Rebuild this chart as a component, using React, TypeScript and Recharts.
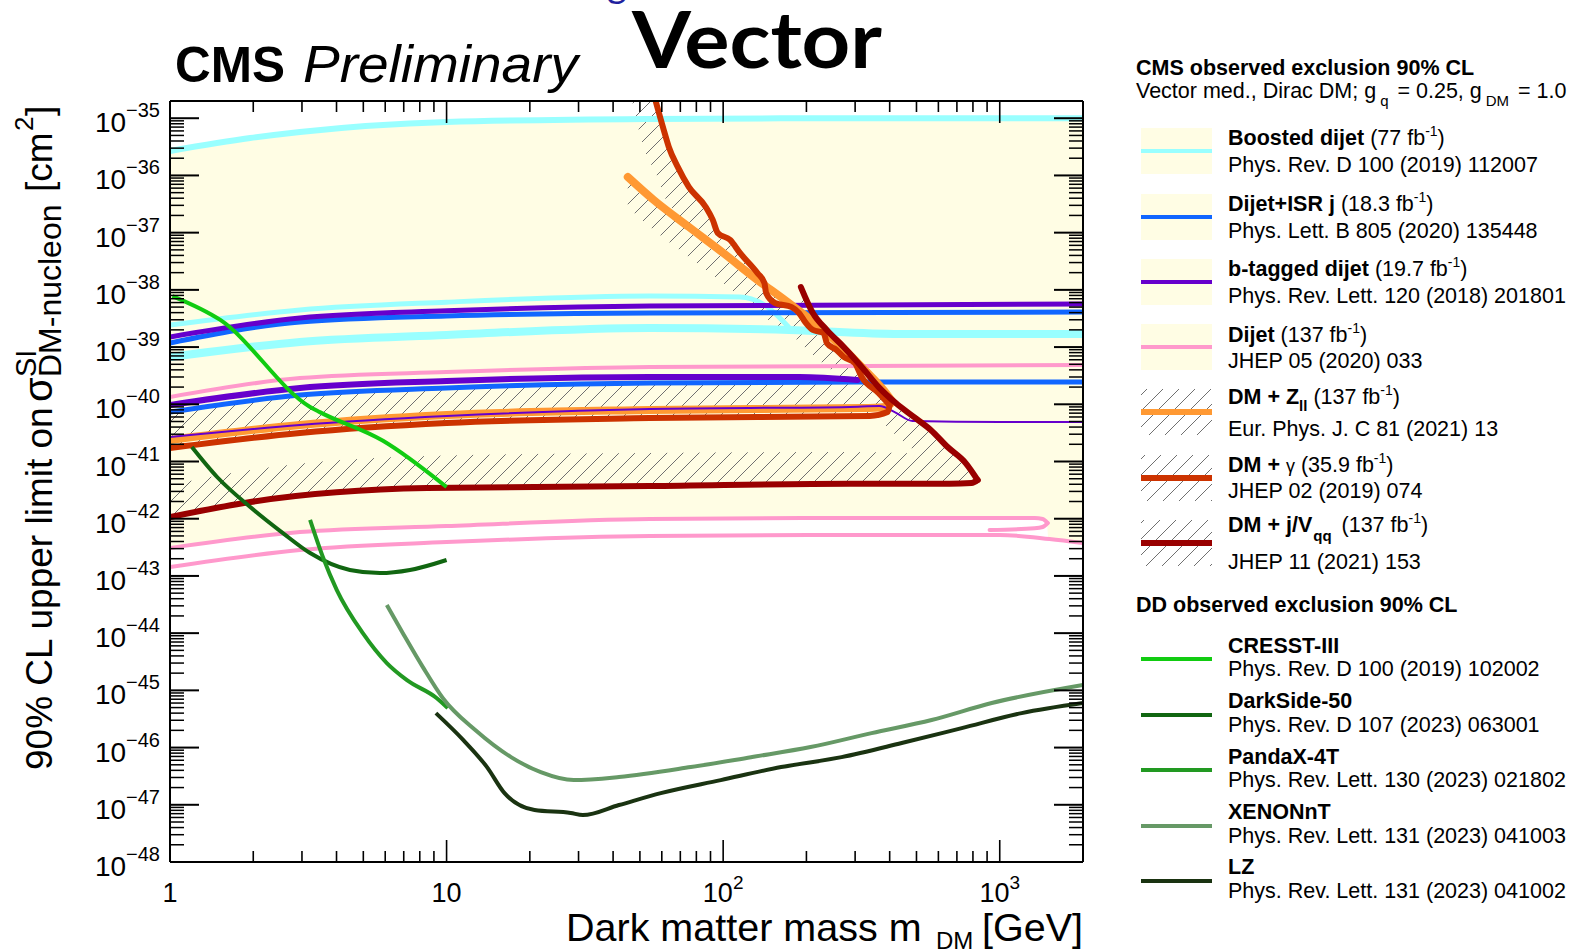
import React from 'react';
import { ComposedChart, Line, Area, XAxis, YAxis } from 'recharts';

type P = [number, number];
type R = [number, number, number];

// mass m_DM [GeV], cross section [cm^2]
const boostedTop: P[] = [[1, 2.68e-36], [1.95, 4.5e-36], [2.95, 5.75e-36], [10, 8.6e-36], [54.3, 9.7e-36], [287, 1.0e-35], [2000, 1.0e-35]];
const boostedMid: P[] = [[1, 2.43e-39], [2.95, 4.45e-39], [10, 6.1e-39], [54.3, 7.8e-39], [115, 7.5e-39], [141, 5.45e-39], [173, 2.2e-39]];
const boostedLow: P[] = [[1, 6.7e-40], [2.95, 1.23e-39], [10, 1.63e-39], [54.3, 2.16e-39], [173, 1.99e-39], [435, 1.69e-39], [2000, 1.69e-39]];
const isrTop: P[] = [[1, 1.18e-39], [2.95, 2.75e-39], [10, 3.5e-39], [54.3, 3.95e-39], [2000, 4.1e-39]];
const isrLow: P[] = [[1, 7.3e-41], [2.95, 1.45e-40], [10, 1.93e-40], [54.3, 2.36e-40], [317, 2.45e-40], [2000, 2.45e-40]];
const btagTop: P[] = [[1, 1.5e-39], [2.95, 3.23e-39], [10, 4.3e-39], [54.3, 5.2e-39], [2000, 5.66e-39]];
const btagMid: P[] = [[1, 9.7e-41], [2.95, 1.93e-40], [10, 2.55e-40], [54.3, 3.0e-40], [189, 3.0e-40], [306, 2.66e-40]];
const btagLow: P[] = [[1, 2.68e-41], [2.95, 4.35e-41], [10, 6.24e-41], [54.3, 8.3e-41], [287, 9.0e-41], [368, 9.3e-41], [417, 7.3e-41], [484, 5.1e-41], [1000, 4.9e-41], [2000, 4.9e-41]];
const dijetTop: P[] = [[1, 1.34e-40], [2.95, 2.88e-40], [10, 3.67e-40], [54.3, 4.49e-40], [2000, 4.86e-40]];
const dijetLoopTop: P[] = [[1, 3.08e-43], [2.95, 5.85e-43], [10, 7.45e-43], [54.3, 9.9e-43], [287, 1.03e-42], [1337, 1.03e-42], [1429, 9.9e-43], [1490, 8.4e-43]];
const dijetLoopBack: P[] = [[919, 6.35e-43], [1337, 6.8e-43], [1429, 7.16e-43], [1490, 8.4e-43]];
const dijetLow: P[] = [[1, 1.43e-43], [2.95, 2.84e-43], [10, 3.9e-43], [54.3, 4.98e-43], [287, 5.2e-43], [1000, 5.2e-43], [1514, 4.42e-43], [2000, 3.76e-43]];
const zllDiag: P[] = [[45.2, 9.4e-37], [56.1, 3.72e-37], [75.1, 1.26e-37], [100, 4.42e-38], [133, 1.49e-38], [167, 6.65e-39], [237, 1.76e-39], [317, 4.49e-40], [393, 1.45e-40], [410, 1.1e-40]];
const zllBase: P[] = [[1, 2.38e-41], [2.95, 4.35e-41], [10, 6.5e-41], [54.3, 7.95e-41], [317, 8.6e-41], [384, 9.0e-41], [410, 1.1e-40]];
const gammaDiag: P[] = [[57, 2.0e-35], [61, 6.2e-36], [63.6, 3.15e-36], [68.5, 1.41e-36], [75.1, 6.3e-37], [86.5, 2.81e-37], [91.7, 1.67e-37], [95.6, 9.9e-38], [106, 7.45e-38], [115, 4.42e-38], [133, 1.97e-38], [141, 1.32e-38], [143, 8.8e-39], [154, 5.9e-39], [177, 5.0e-39], [188, 3.95e-39], [199, 2.64e-39], [211, 1.99e-39], [231, 1.76e-39], [237, 1.18e-39], [257, 8.9e-40], [273, 6.7e-40], [299, 5.3e-40], [317, 3.0e-40], [365, 1.57e-40], [400, 9.7e-41]];
const gammaBase: P[] = [[1, 1.72e-41], [2.95, 3.15e-41], [10, 4.7e-41], [54.3, 5.75e-41], [339, 6.24e-41], [393, 7.3e-41], [400, 9.7e-41]];
const jvDiag: P[] = [[191, 1.12e-38], [211, 3.95e-39], [237, 1.99e-39], [273, 1.0e-39], [317, 4.49e-40], [365, 2.0e-40], [421, 1.05e-40], [489, 6.0e-41], [563, 3.56e-41], [648, 1.79e-41], [753, 9.4e-42], [832, 4.74e-42]];
const jvBase: P[] = [[1, 1.07e-42], [1.95, 1.96e-42], [8.49, 3.44e-42], [54.3, 3.72e-42], [287, 4.1e-42], [659, 4.1e-42], [791, 4.2e-42], [832, 4.74e-42]];

// direct detection
const cresst: P[] = [[1.02, 7.8e-39], [1.52, 2.98e-39], [3.21, 9.0e-41], [3.48, 7.3e-41], [5.89, 2.3e-41], [10, 3.58e-42]];
const darkside: P[] = [[1.2, 1.79e-41], [1.48, 5.36e-42], [1.95, 1.6e-42], [2.56, 5.6e-43], [3.21, 2.51e-43], [4.47, 1.27e-43], [5.74, 1.12e-43], [7.37, 1.27e-43], [10, 1.9e-43]];
const pandax: P[] = [[3.21, 9.5e-43], [3.57, 2.14e-43], [4.01, 5.66e-44], [4.98, 1.0e-44], [6.08, 3.0e-45], [7.19, 1.51e-45], [9.22, 7.3e-46], [10.1, 4.9e-46]];
const xenon: P[] = [[6.08, 3.1e-44], [6.95, 1.0e-44], [8.21, 2.55e-45], [9.7, 7.3e-46], [12.7, 2.02e-46], [17.1, 6.8e-47], [21.9, 3.72e-47], [28.8, 2.7e-47], [42, 3.05e-47], [76.4, 4.56e-47], [126, 6.8e-47], [207, 1.02e-46], [344, 1.79e-46], [567, 3.03e-46], [935, 6.0e-46], [2000, 1.24e-45]];
const lz: P[] = [[9.15, 4.0e-46], [11.5, 1.35e-46], [14.0, 4.56e-47], [16.2, 1.6e-47], [20.8, 8.1e-48], [28.1, 7.2e-48], [31.1, 6.6e-48], [42, 9.9e-48], [59.5, 1.6e-47], [98, 2.7e-47], [162, 4.56e-47], [268, 6.8e-47], [442, 1.2e-46], [729, 2.19e-46], [1200, 4.0e-46], [2000, 6.0e-46]];

// filled / hatched regions: [m, low, high]
const yellowFill: R[] = [[1, 3.08e-43, 2.68e-36], [1.95, 4.6e-43, 4.5e-36], [2.95, 5.85e-43, 5.75e-36], [10, 7.45e-43, 8.6e-36], [54.3, 9.9e-43, 9.7e-36], [287, 1.03e-42, 1.0e-35], [1337, 1.03e-42, 1.0e-35], [1480, 8.6e-43, 1.0e-35], [1500, 4.4e-43, 1.0e-35], [2000, 3.76e-43, 1.0e-35]];
const hatchBand: R[] = [[1, 1.72e-41, 7.95e-41], [2.95, 3.15e-41, 1.45e-40], [10, 4.7e-41, 1.93e-40], [54.3, 5.75e-41, 2.36e-40], [287, 6.24e-41, 2.45e-40], [368, 7.3e-41, 1.45e-40]];
const hatchZll: R[] = [[45.2, 2.81e-37, 9.4e-37], [56.1, 1.11e-37, 3.72e-37], [75.1, 3.76e-38, 1.26e-37], [100, 1.32e-38, 4.42e-38], [133, 4.45e-39, 1.49e-38], [167, 1.99e-39, 6.65e-39], [237, 5.3e-40, 1.76e-39], [317, 1.64e-40, 4.49e-40], [393, 9.7e-41, 1.45e-40]];
const hatchGamma: R[] = [[47.1, 1.78e-35, 1.93e-35], [52.1, 2.68e-36, 1.93e-35], [57.5, 1.02e-36, 1.93e-35], [61, 4.56e-37, 6.2e-36], [68.5, 2.04e-37, 1.41e-36], [75.1, 1.21e-37, 6.3e-37], [86.5, 6.1e-38, 2.81e-37], [95.6, 3.33e-38, 9.9e-38], [115, 1.22e-38, 4.42e-38], [143, 3.23e-39, 8.8e-39], [177, 1.63e-39, 5.0e-39], [211, 7.3e-40, 1.99e-39], [273, 2.66e-40, 6.7e-40], [317, 1.29e-40, 3.0e-40], [365, 7.95e-41, 1.57e-40]];
const hatchJvDiag: R[] = [[191, 6.65e-39, 1.12e-38], [211, 1.33e-39, 3.95e-39], [237, 5.94e-40, 1.99e-39], [273, 2.88e-40, 1.0e-39], [317, 1.29e-40, 4.49e-40], [365, 5.75e-41, 2.0e-40], [421, 2.9e-41, 1.05e-40], [489, 1.59e-41, 6.0e-41], [563, 9.8e-42, 3.56e-41], [648, 5.57e-42, 1.79e-41], [753, 4.2e-42, 9.4e-42], [832, 4.38e-42, 4.74e-42]];
const hatchJvBase: R[] = [[1, 1.07e-42, 3.88e-42], [1.95, 1.96e-42, 7.1e-42], [8.49, 3.44e-42, 1.25e-41], [54.3, 3.88e-42, 1.41e-41], [287, 4.04e-42, 1.46e-41], [659, 4.04e-42, 1.3e-41]];

// ticks
const xMajor = [1, 10, 100, 1000];
const xTickLabels = [['1', ''], ['10', ''], ['10', '2'], ['10', '3']];
const yMajorExp = [-48, -47, -46, -45, -44, -43, -42, -41, -40, -39, -38, -37, -36, -35];
const minorMult = [2, 3, 4, 5, 6, 7, 8, 9];
const xTicks = xMajor.flatMap((v) => [v, ...minorMult.map((k) => k * v).filter((t) => t < 2000)]);
const yTicks = yMajorExp.flatMap((e) => [Math.pow(10, e), ...(e < -35 ? minorMult.map((k) => k * Math.pow(10, e)) : [])]);

const FONT = '"Liberation Sans", Arial, Helvetica, sans-serif';
const YELLOW = '#fffde4';

const pts = (a: P[]) => a.map(([m, s]) => ({ m, s }));
const band = (a: R[]) => a.map(([m, lo, hi]) => ({ m, r: [lo, hi] }));

const isMajor = (v: number) => {
  const l = Math.log10(v);
  return Math.abs(l - Math.round(l)) < 1e-6;
};

function BottomTick({ x, y, payload }: any) {
  const v = payload.value;
  const major = isMajor(v);
  const i = xMajor.findIndex((t) => Math.abs(t - v) < 1e-9);
  const lab = i >= 0 ? xTickLabels[i] : null;
  return (
    <g>
      <line x1={x} x2={x} y1={y} y2={y - (major ? 22 : 11)} stroke="#000" strokeWidth={1.6} />
      {major && lab && (
        <text x={x} y={y + 40} textAnchor="middle" fontFamily={FONT} fontSize={27} fill="#000">
          {lab[0]}
          {lab[1] && <tspan dy={-13} fontSize={19}>{lab[1]}</tspan>}
        </text>
      )}
    </g>
  );
}

function TopTick({ x, y, payload }: any) {
  const major = isMajor(payload.value);
  return <line x1={x} x2={x} y1={y} y2={y + (major ? 22 : 11)} stroke="#000" strokeWidth={1.6} />;
}

function LeftTick({ x, y, payload }: any) {
  const v = payload.value;
  const major = isMajor(v);
  return (
    <g>
      <line x1={x} x2={x + (major ? 29 : 14)} y1={y} y2={y} stroke="#000" strokeWidth={major ? 2 : 1.5} />
      {major && (
        <text x={x - 10} y={y + 14} textAnchor="end" fontFamily={FONT} fontSize={28} fill="#000">
          10<tspan dy={-15} fontSize={20}>{'\u2212' + Math.abs(Math.round(Math.log10(v)))}</tspan>
        </text>
      )}
    </g>
  );
}

function RightTick({ x, y, payload }: any) {
  const major = isMajor(payload.value);
  return <line x1={x} x2={x - (major ? 29 : 14)} y1={y} y2={y} stroke="#000" strokeWidth={major ? 2 : 1.5} />;
}

const CYAN = '#99ffff';
const BLUE = '#1166ff';
const PURPLE = '#6600cc';
const PINK = '#ff99cc';
const ORANGE = '#ff9933';
const RED = '#cc3300';
const DARKRED = '#990000';

const lines: { data: P[]; color: string; w: number; cap?: boolean }[] = [
  { data: boostedTop, color: CYAN, w: 6 },
  { data: boostedMid, color: CYAN, w: 5 },
  { data: boostedLow, color: CYAN, w: 8 },
  { data: isrTop, color: BLUE, w: 5 },
  { data: isrLow, color: BLUE, w: 5 },
  { data: btagTop, color: PURPLE, w: 5 },
  { data: btagMid, color: PURPLE, w: 6, cap: true },
  { data: dijetTop, color: PINK, w: 4 },
  { data: dijetLoopTop, color: PINK, w: 4, cap: true },
  { data: dijetLoopBack, color: PINK, w: 4, cap: true },
  { data: dijetLow, color: PINK, w: 4 },
  { data: zllDiag, color: ORANGE, w: 8, cap: true },
  { data: zllBase, color: ORANGE, w: 8, cap: true },
  { data: btagLow, color: PURPLE, w: 2 },
  { data: gammaDiag, color: RED, w: 6, cap: true },
  { data: gammaBase, color: RED, w: 6, cap: true },
  { data: jvDiag, color: DARKRED, w: 6, cap: true },
  { data: jvBase, color: DARKRED, w: 6, cap: true },
  { data: cresst, color: '#11cc11', w: 4 },
  { data: darkside, color: '#116611', w: 4 },
  { data: pandax, color: '#229922', w: 4 },
  { data: xenon, color: '#669966', w: 4 },
  { data: lz, color: '#1a3311', w: 4 },
];

const hatches = [hatchBand, hatchZll, hatchGamma, hatchJvDiag, hatchJvBase];

const LEG = 21.5;

function Sup({ t }: { t: string }) {
  return <tspan dy={-9} fontSize={14}>{t}</tspan>;
}

export default function App() {
  const axisLine = { stroke: '#000', strokeWidth: 2 };
  const cmsBoxes = [
    { line: 151, color: CYAN, w: 4, hatch: false },
    { line: 217, color: BLUE, w: 4, hatch: false },
    { line: 282, color: PURPLE, w: 4, hatch: false },
    { line: 347, color: PINK, w: 4, hatch: false },
    { line: 412, color: ORANGE, w: 6, hatch: true },
    { line: 478, color: RED, w: 6, hatch: true },
    { line: 543, color: DARKRED, w: 6, hatch: true },
  ];
  const dd = [
    { name: 'CRESST-III', ref: 'Phys. Rev. D 100 (2019) 102002', color: '#11cc11', t1: 653, t2: 676, line: 659 },
    { name: 'DarkSide-50', ref: 'Phys. Rev. D 107 (2023) 063001', color: '#116611', t1: 708, t2: 732, line: 715 },
    { name: 'PandaX-4T', ref: 'Phys. Rev. Lett. 130 (2023) 021802', color: '#229922', t1: 764, t2: 787, line: 770 },
    { name: 'XENONnT', ref: 'Phys. Rev. Lett. 131 (2023) 041003', color: '#669966', t1: 819, t2: 843, line: 826 },
    { name: 'LZ', ref: 'Phys. Rev. Lett. 131 (2023) 041002', color: '#1a3311', t1: 874, t2: 898, line: 881 },
  ];

  return (
    <div style={{ position: 'absolute', left: 0, top: 0, width: 1571, height: 952, background: '#fff', overflow: 'hidden' }}>
      <svg width={0} height={0} style={{ position: 'absolute' }}>
        <defs>
          <pattern id="hatch" width={16} height={16} patternUnits="userSpaceOnUse">
            <path d="M0,16 L16,0 M-4,4 L4,-4 M12,20 L20,12" stroke="#707070" strokeWidth={1} />
          </pattern>
        </defs>
      </svg>
      <div style={{ position: 'absolute', left: 0, top: 0 }}>
        <ComposedChart width={1100} height={952} margin={{ top: 100, right: 10, bottom: 30, left: 20 }}>
          <XAxis xAxisId="b" dataKey="m" type="number" scale="log" domain={[1, 2000]} allowDataOverflow ticks={xTicks} interval={0}
            orientation="bottom" height={60} tickLine={false} tickSize={0} tickMargin={0} axisLine={axisLine}
            tick={(p: any) => <BottomTick {...p} />} />
          <XAxis xAxisId="t" dataKey="m" type="number" scale="log" domain={[1, 2000]} allowDataOverflow ticks={xTicks} interval={0}
            orientation="top" height={1} tickLine={false} tickSize={0} tickMargin={0} axisLine={axisLine}
            tick={(p: any) => <TopTick {...p} />} />
          <YAxis yAxisId="l" type="number" scale="log" domain={[1e-48, 2e-35]} allowDataOverflow ticks={yTicks} interval={0}
            orientation="left" width={150} tickLine={false} tickSize={0} tickMargin={0} axisLine={axisLine}
            tick={(p: any) => <LeftTick {...p} />} />
          <YAxis yAxisId="r" type="number" scale="log" domain={[1e-48, 2e-35]} allowDataOverflow ticks={yTicks} interval={0}
            orientation="right" width={7} tickLine={false} tickSize={0} tickMargin={0} axisLine={axisLine}
            tick={(p: any) => <RightTick {...p} />} />

          <Area xAxisId="b" yAxisId="l" data={band(yellowFill)} dataKey="r" type="monotone" stroke="none"
            fill={YELLOW} fillOpacity={1} dot={false} activeDot={false} isAnimationActive={false} />
          {hatches.map((h, i) => (
            <Area key={'h' + i} xAxisId="b" yAxisId="l" data={band(h)} dataKey="r" type="monotone" stroke="none"
              fill="url(#hatch)" fillOpacity={1} dot={false} activeDot={false} isAnimationActive={false} />
          ))}
          {lines.map((l, i) => (
            <Line key={'l' + i} xAxisId="b" yAxisId="l" data={pts(l.data)} dataKey="s" type="monotone" stroke={l.color}
              strokeWidth={l.w} strokeLinecap={l.cap ? 'round' : 'butt'} dot={false} activeDot={false} isAnimationActive={false} />
          ))}
        </ComposedChart>
      </div>

      <svg width={1571} height={952} style={{ position: 'absolute', left: 0, top: 0, pointerEvents: 'none' }} fontFamily={FONT}>
        <text x={607} y={-3} fontFamily="Lato, sans-serif" fontSize={38} fill="#1f1f9e">g</text>
        <text x={632} y={68} fontFamily="Lato, 'Open Sans', sans-serif" fontWeight={700} fontSize={78}
          textLength={250} lengthAdjust="spacingAndGlyphs">Vector</text>
        <text x={175} y={82} fontWeight="bold" fontSize={50} textLength={110} lengthAdjust="spacingAndGlyphs">CMS</text>
        <text x={303} y={82} fontStyle="italic" fontSize={52} textLength={275} lengthAdjust="spacingAndGlyphs">Preliminary</text>

        {/* axis titles */}
        <text x={566} y={941} fontSize={39.5}>Dark matter mass m</text>
        <text x={936} y={949} fontSize={24}>DM</text>
        <text x={1083} y={941} fontSize={39.5} textAnchor="end">[GeV]</text>

        <text transform="translate(52,770) rotate(-90)" fontSize={37}>90% CL upper limit on</text>
        <text transform="translate(52,402) rotate(-90)" fontSize={40}>σ</text>
        <text transform="translate(36,377) rotate(-90)" fontSize={29}>SI</text>
        <text transform="translate(61,377) rotate(-90)" fontSize={32}>DM-nucleon</text>
        <text transform="translate(52,192) rotate(-90)" fontSize={37}>[cm</text>
        <text transform="translate(33,131) rotate(-90)" fontSize={26}>2</text>
        <text transform="translate(52,116) rotate(-90)" fontSize={37}>]</text>

        {/* legend */}
        <text x={1136} y={75} fontSize={LEG} fontWeight="bold">CMS observed exclusion 90% CL</text>
        <text x={1136} y={98} fontSize={LEG}>
          Vector med., Dirac DM; g<tspan dx={4} dy={8} fontSize={15}>q</tspan>
          <tspan dx={3} dy={-8}> = 0.25, g</tspan><tspan dx={4} dy={8} fontSize={15}>DM</tspan>
          <tspan dx={3} dy={-8}> = 1.0</tspan>
        </text>

        {cmsBoxes.map((b, i) => (
          <g key={'cb' + i}>
            <rect x={1141} y={b.line - 23} width={71} height={46} fill={b.hatch ? 'url(#hatch)' : YELLOW} />
            <line x1={1141} x2={1212} y1={b.line} y2={b.line} stroke={b.color} strokeWidth={b.w} />
          </g>
        ))}

        <text x={1228} y={145} fontSize={LEG}><tspan fontWeight="bold">Boosted dijet</tspan> (77 fb<Sup t="-1" /><tspan dy={9}>)</tspan></text>
        <text x={1228} y={172} fontSize={LEG}>Phys. Rev. D 100 (2019) 112007</text>
        <text x={1228} y={211} fontSize={LEG}><tspan fontWeight="bold">Dijet+ISR j</tspan> (18.3 fb<Sup t="-1" /><tspan dy={9}>)</tspan></text>
        <text x={1228} y={238} fontSize={LEG}>Phys. Lett. B 805 (2020) 135448</text>
        <text x={1228} y={276} fontSize={LEG}><tspan fontWeight="bold">b-tagged dijet</tspan> (19.7 fb<Sup t="-1" /><tspan dy={9}>)</tspan></text>
        <text x={1228} y={303} fontSize={LEG}>Phys. Rev. Lett. 120 (2018) 201801</text>
        <text x={1228} y={342} fontSize={LEG}><tspan fontWeight="bold">Dijet</tspan> (137 fb<Sup t="-1" /><tspan dy={9}>)</tspan></text>
        <text x={1228} y={368} fontSize={LEG}>JHEP 05 (2020) 033</text>
        <text x={1228} y={404} fontSize={LEG}>
          <tspan fontWeight="bold">DM + Z</tspan><tspan dy={7} fontSize={15} fontWeight="bold">ll</tspan>
          <tspan dy={-7}> (137 fb</tspan><Sup t="-1" /><tspan dy={9}>)</tspan>
        </text>
        <text x={1228} y={436} fontSize={LEG}>Eur. Phys. J. C 81 (2021) 13</text>
        <text x={1228} y={472} fontSize={LEG}>
          <tspan fontWeight="bold">DM + </tspan><tspan fontSize={18}>γ</tspan> (35.9 fb<Sup t="-1" /><tspan dy={9}>)</tspan>
        </text>
        <text x={1228} y={498} fontSize={LEG}>JHEP 02 (2019) 074</text>
        <text x={1228} y={532} fontSize={LEG}>
          <tspan fontWeight="bold">DM + j/V</tspan><tspan dx={1} dy={9} fontSize={15} fontWeight="bold">qq</tspan>
          <tspan dx={4} dy={-9}> (137 fb</tspan><Sup t="-1" /><tspan dy={9}>)</tspan>
        </text>
        <text x={1228} y={569} fontSize={LEG}>JHEP 11 (2021) 153</text>

        <text x={1136} y={612} fontSize={LEG} fontWeight="bold">DD observed exclusion 90% CL</text>
        {dd.map((d) => (
          <g key={d.name}>
            <line x1={1141} x2={1212} y1={d.line} y2={d.line} stroke={d.color} strokeWidth={4} />
            <text x={1228} y={d.t1} fontSize={LEG} fontWeight="bold">{d.name}</text>
            <text x={1228} y={d.t2} fontSize={LEG}>{d.ref}</text>
          </g>
        ))}
      </svg>
    </div>
  );
}
